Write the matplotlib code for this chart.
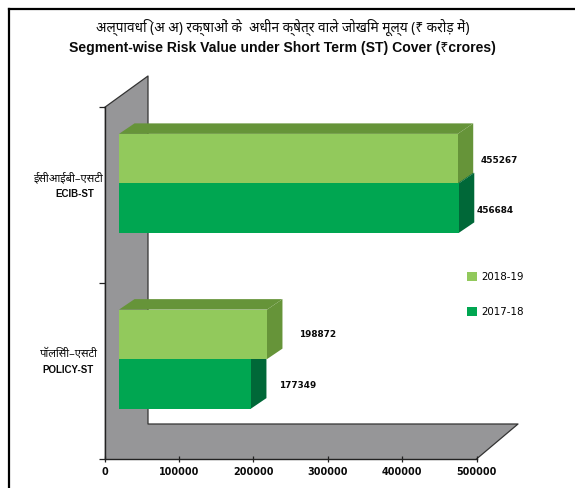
import matplotlib
matplotlib.use("Agg")
import matplotlib.pyplot as plt
from matplotlib.patches import Polygon, Rectangle
from matplotlib.lines import Line2D

categories = ["पॉलिसी–एसटी\nPOLICY-ST", "ईसीआईबी–एसटी\nECIB-ST"]
series_2018 = [198872, 455267]
series_2017 = [177349, 456684]
series_names = ["2018-19", "2017-18"]
x_ticks = [0, 100000, 200000, 300000, 400000, 500000]
title_hi = "अल्पावधि (अ अ) रक्षाओं के  अधीन क्षेत्र वाले जोखिम मूल्य (₹ करोड़ में)"
title_en = "Segment-wise Risk Value under Short Term (ST) Cover (₹crores)"

W, H = 575, 488
LIGHT, LIGHT_SIDE = "#92C95C", "#669439"
DARK, DARK_SIDE = "#00A651", "#006838"
GRAY = "#969698"
INK = "#0a0a0a"
HI = ["Noto Sans", "Noto Sans Devanagari", "Liberation Sans", "DejaVu Sans"]

fig = plt.figure(figsize=(W / 100, H / 100), dpi=100, facecolor="white")
x0, x1, ytop, ybot = 104.5, 476.5, 107.5, 459
ax = fig.add_axes([x0 / W, 1 - ybot / H, (x1 - x0) / W, (ybot - ytop) / H])
ax.set_xlim(0, 500000)
ax.set_ylim(0, 2)
ax.patch.set_alpha(0)
for s in ["top", "right"]:
    ax.spines[s].set_visible(False)
for s in ["left", "bottom"]:
    ax.spines[s].set_linewidth(1.0)
    ax.spines[s].set_color("#222222")

UX = 500000 / (x1 - x0)   # value units per pixel
UY = 2 / (ybot - ytop)    # category units per pixel

# wall and floor
wx, wy = 43.5 * UX, 35 * UY
ax.add_patch(Polygon([(0, 0), (0, 2), (wx, 2 + 31.5 * UY), (wx, wy),
                      (500000 + 41.5 * UX, wy), (500000, 0)],
                     closed=True, fc=GRAY, ec="none", clip_on=False, zorder=1))
ax.add_line(Line2D([0, wx, wx, 500000 + 41.5 * UX, 500000],
                   [2, 2 + 31.5 * UY, wy, wy, 0], color="#333333", lw=0.9,
                   clip_on=False, zorder=1.5))

offx, offy = 14.5 * UX, 12 * UY
bar_h = 49.5 * UY
dx, dy = 15.5 * UX, 10.5 * UY


def draw_bar(v, yc, front, side, z):
    left, right = offx, v + offx
    y0, y1 = yc, yc + bar_h
    ax.add_patch(Polygon([(right, y0), (right + dx, y0 + dy), (right + dx, y1 + dy), (right, y1)],
                         fc=side, ec="none", clip_on=False, zorder=z))
    ax.add_patch(Polygon([(left, y1), (right, y1), (right + dx, y1 + dy), (left + dx, y1 + dy)],
                         fc=side, ec="none", clip_on=False, zorder=z))
    ax.add_patch(Rectangle((left, y0), right - left, bar_h, fc=front, ec="none",
                           clip_on=False, zorder=z + 0.1))


for i in range(2):
    yc = i + 0.5 + offy
    draw_bar(series_2017[i], yc - bar_h, DARK, DARK_SIDE, 2)
    draw_bar(series_2018[i], yc, LIGHT, LIGHT_SIDE, 3)

# value labels
lab = [(198872, 299, 335), (455267, 481, 161), (177349, 279, 385), (456684, 477, 211)]
for v, px, py in lab:
    ax.text((px - x0) * UX, (ybot - py) * UY, str(v), fontsize=6.4, fontweight="bold",
            family="DejaVu Sans", va="center", ha="left", color=INK, zorder=6)

# axes
ax.set_xticks(x_ticks)
ax.set_xticklabels([str(t) for t in x_ticks], fontsize=6.9, fontweight="bold",
                   family="DejaVu Sans", color=INK)
ax.tick_params(axis="x", direction="inout", length=5, width=0.9, pad=3.5, color="#222222")
ax.set_yticks([0, 1, 2])
ax.set_yticklabels([])
ax.tick_params(axis="y", direction="out", length=4.5, width=0.9, color="#222222")

# category labels
hi_right = [-6.5, -1.5]
for i, c in enumerate(categories):
    hi, en = c.split("\n")
    ax.text(hi_right[i] * UX, (i + 0.5) + 17 * UY, hi,
            family=HI, fontsize=8.1, ha="right", va="center", color=INK)
    ax.text(-10.5 * UX, (i + 0.5) + 1.5 * UY, en, family="Liberation Sans", fontweight="bold",
            fontsize=7, ha="right", va="center", color=INK)

# legend
handles = [Rectangle((0, 0), 1, 1, fc=LIGHT), Rectangle((0, 0), 1, 1, fc=DARK)]
fig.legend(handles, series_names, loc="upper left",
           bbox_to_anchor=(467 / W, 1 - 272 / H), borderaxespad=0, borderpad=0, frameon=False,
           handlelength=1.0, handleheight=1.0, handletextpad=0.35, labelspacing=2.4,
           prop={"family": "DejaVu Sans", "size": 7.4})

# titles
fig.text(282.5 / W, 1 - 27 / H, title_hi, family=HI, fontsize=9.8, ha="center", va="center", color=INK)
fig.text(282.5 / W, 1 - 48 / H, title_en, family=["Liberation Sans", "Noto Sans", "DejaVu Sans"],
         fontweight="bold", fontsize=10.07, ha="center", va="center", color=INK)

# outer frame
fig.add_artist(Line2D([9 / W, 9 / W], [0, 1 - 9 / H], color="black", lw=1.6))
fig.add_artist(Line2D([9 / W, 1], [1 - 9 / H, 1 - 9 / H], color="black", lw=1.6))

fig.savefig("out.png", dpi=100)
